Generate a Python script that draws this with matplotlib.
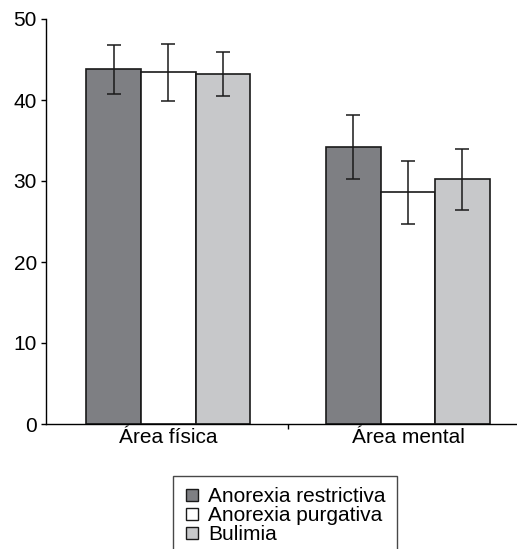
import matplotlib
matplotlib.use('Agg')
import matplotlib.pyplot as plt
from matplotlib.lines import Line2D
import numpy as np

plt.rcParams['font.family'] = ['Liberation Sans', 'DejaVu Sans']

areas = ['Área física', 'Área mental']
groups = ['Anorexia restrictiva', 'Anorexia purgativa', 'Bulimia']
means = {
    'Anorexia restrictiva': [43.8, 34.2],
    'Anorexia purgativa': [43.4, 28.6],
    'Bulimia': [43.2, 30.2],
}
errs = {
    'Anorexia restrictiva': [3.0, 4.0],
    'Anorexia purgativa': [3.5, 3.9],
    'Bulimia': [2.7, 3.8],
}
colors = ['#7e7f83', '#ffffff', '#c7c8ca']

fig = plt.figure(figsize=(5.17, 5.49), dpi=100)
ax = fig.add_axes([46/517, 125/549, 471/517, 405/549])

x = np.arange(len(areas))
w = 0.2275
for i, g in enumerate(groups):
    pos = x + (i - 1) * w
    ax.bar(pos, means[g], width=w, color=colors[i], edgecolor='#1a1a1a', linewidth=1.2)
    ax.errorbar(pos, means[g], yerr=errs[g], fmt='none', ecolor='#1a1a1a',
                elinewidth=1.1, capsize=4.7, capthick=1.1)

ax.set_xlim(-0.51, 1.455)
ax.set_ylim(0, 50)
ax.set_yticks([0, 10, 20, 30, 40, 50])
ax.set_xticks([0.5], minor=False)
ax.set_xticklabels([])
ax.set_xticks(x, minor=True)
ax.set_xticklabels(areas, minor=True)
ax.tick_params(axis='x', which='minor', length=0, labelsize=15, pad=3)
ax.tick_params(axis='x', which='major', length=3.5, width=1, direction='out')
ax.tick_params(axis='y', length=3.5, width=1, labelsize=15, pad=3)
for s in ['top', 'right']:
    ax.spines[s].set_visible(False)
ax.spines['left'].set_linewidth(1)
ax.spines['bottom'].set_linewidth(1)

handles = [Line2D([], [], linestyle='none', marker='s', markersize=9,
                  markerfacecolor=c, markeredgecolor='#1a1a1a', markeredgewidth=1)
           for c in colors]
leg = fig.legend(handles, groups, loc='upper left', bbox_to_anchor=(173/517, 1 - 476/549),
                 fontsize=15, frameon=True, fancybox=False, handlelength=0.7,
                 handletextpad=0.42, labelspacing=0.0, borderpad=0.55, borderaxespad=0)
leg.get_frame().set_edgecolor('#1a1a1a')
leg.get_frame().set_linewidth(1)

fig.savefig('out.png', dpi=100)
